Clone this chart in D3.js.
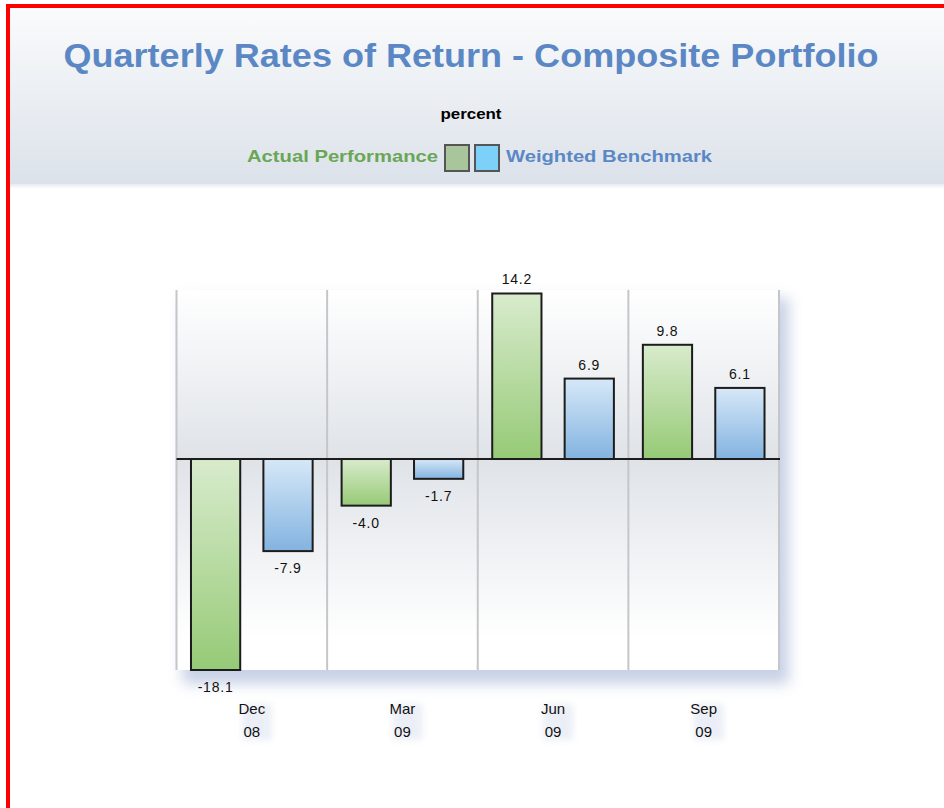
<!DOCTYPE html>
<html>
<head>
<meta charset="utf-8">
<script src="https://cdn.jsdelivr.net/npm/d3@7"></script>
<style>
  html, body { margin: 0; padding: 0; background: #fff; }
  svg { display: block; font-family: "Liberation Sans", Arial, sans-serif; }
</style>
</head>
<body>
<svg id="chart" width="944" height="808"></svg>
<script>
// chart data
var quarters = ["Dec 08", "Mar 09", "Jun 09", "Sep 09"];
var seriesNames = ["Actual Performance", "Weighted Benchmark"];
var actualPerformance = [-18.1, -4.0, 14.2, 9.8];
var weightedBenchmark = [-7.9, -1.7, 6.9, 6.1];
var valueLabels = [["-18.1", "-4.0", "14.2", "9.8"], ["-7.9", "-1.7", "6.9", "6.1"]];

var svg = d3.select("#chart"),
    width = +svg.attr("width"),
    height = +svg.attr("height");

var defs = svg.append("defs");

function vGrad(id, stops) {
    var g = defs.append("linearGradient")
        .attr("id", id)
        .attr("x1", 0).attr("y1", 0).attr("x2", 0).attr("y2", 1);
    stops.forEach(function (s) {
        g.append("stop").attr("offset", s[0]).attr("stop-color", s[1]);
    });
}
vGrad("hdrGrad", [[0, "#fafbfc"], [1, "#dce2ea"]]);
vGrad("hdrShadow", [[0, "#e6eaf0"], [1, "#ffffff"]]);
vGrad("plotTop", [[0, "#ffffff"], [1, "#dfe3e8"]]);
vGrad("plotBottom", [[0, "#dfe3e8"], [0.85, "#ffffff"], [1, "#ffffff"]]);
vGrad("greenGrad", [[0, "#d8ebcd"], [1, "#96ca76"]]);
vGrad("blueGrad", [[0, "#d6e8f8"], [1, "#83b3e0"]]);

var blur = defs.append("filter").attr("id", "blur")
    .attr("x", "-20%").attr("y", "-20%").attr("width", "140%").attr("height", "140%");
blur.append("feGaussianBlur").attr("stdDeviation", 7);
var blurSmall = defs.append("filter").attr("id", "blurSmall")
    .attr("x", "-50%").attr("y", "-50%").attr("width", "200%").attr("height", "200%");
blurSmall.append("feGaussianBlur").attr("stdDeviation", 3);

// header band
svg.append("rect")
    .attr("x", 10).attr("y", 184).attr("width", width).attr("height", 5)
    .attr("fill", "url(#hdrShadow)");
svg.append("rect")
    .attr("x", 10).attr("y", 8).attr("width", width).attr("height", 176)
    .attr("fill", "url(#hdrGrad)");

svg.append("text")
    .attr("x", 471).attr("y", 67)
    .attr("text-anchor", "middle")
    .attr("fill", "#5b88c5")
    .style("font-size", "34px")
    .style("font-weight", "bold")
    .attr("textLength", 815)
    .attr("lengthAdjust", "spacingAndGlyphs")
    .text("Quarterly Rates of Return - Composite Portfolio");

svg.append("text")
    .attr("x", 471).attr("y", 119)
    .attr("text-anchor", "middle")
    .attr("fill", "#000")
    .style("font-size", "14px")
    .style("font-weight", "bold")
    .attr("textLength", 61)
    .attr("lengthAdjust", "spacingAndGlyphs")
    .text("percent");

// legend
var legendColors = ["#6aa655", "#5b88c5"];
var swatchFill = ["#a9c59b", "#7dd0f7"];
svg.append("text")
    .attr("x", 438).attr("y", 162)
    .attr("text-anchor", "end")
    .attr("fill", legendColors[0])
    .style("font-size", "17px")
    .style("font-weight", "bold")
    .attr("textLength", 191)
    .attr("lengthAdjust", "spacingAndGlyphs")
    .text(seriesNames[0]);
svg.append("text")
    .attr("x", 506).attr("y", 162)
    .attr("fill", legendColors[1])
    .style("font-size", "17px")
    .style("font-weight", "bold")
    .attr("textLength", 206)
    .attr("lengthAdjust", "spacingAndGlyphs")
    .text(seriesNames[1]);
svg.append("g").selectAll("rect")
    .data(swatchFill)
    .enter().append("rect")
    .attr("x", function (d, i) { return 445 + i * 30; })
    .attr("y", 145)
    .attr("width", 24).attr("height", 26)
    .attr("fill", function (d) { return d; })
    .attr("stroke", "#555")
    .attr("stroke-width", 2);

// plot
var plotLeft = 176.5, plotRight = 779, plotTop = 290, plotBottom = 670;

var x = d3.scaleBand()
    .domain(quarters)
    .range([plotLeft, plotRight])
    .padding(0);

var x1 = d3.scaleBand()
    .domain([0, 1])
    .range([0, x.bandwidth()])
    .paddingInner(0.32)
    .paddingOuter(0.2);

var y = d3.scaleLinear()
    .domain([-18.1, 14.5])
    .range([plotBottom, plotTop]);

// drop shadow behind plot
svg.append("rect")
    .attr("x", plotLeft + 6).attr("y", plotTop + 8)
    .attr("width", plotRight - plotLeft + 4).attr("height", plotBottom - plotTop + 6)
    .attr("fill", "#c9d1e6")
    .attr("filter", "url(#blur)");

svg.append("rect")
    .attr("x", plotLeft).attr("y", plotTop)
    .attr("width", plotRight - plotLeft).attr("height", y(0) - plotTop)
    .attr("fill", "url(#plotTop)");
svg.append("rect")
    .attr("x", plotLeft).attr("y", y(0))
    .attr("width", plotRight - plotLeft).attr("height", plotBottom - y(0))
    .attr("fill", "url(#plotBottom)");

// vertical grid lines at category boundaries
var gridX = quarters.map(function (q) { return x(q); }).concat([plotRight]);
svg.append("g").selectAll("line")
    .data(gridX)
    .enter().append("line")
    .attr("x1", function (d) { return d; })
    .attr("x2", function (d) { return d; })
    .attr("y1", plotTop).attr("y2", plotBottom)
    .attr("stroke", "#c4c6c9")
    .attr("stroke-width", 2);

// bars
var rows = [];
quarters.forEach(function (q, i) {
    rows.push({ q: q, s: 0, v: actualPerformance[i], label: valueLabels[0][i] });
    rows.push({ q: q, s: 1, v: weightedBenchmark[i], label: valueLabels[1][i] });
});

var bars = svg.append("g").selectAll("rect")
    .data(rows)
    .enter().append("rect")
    .attr("x", function (d) { return x(d.q) + x1(d.s); })
    .attr("y", function (d) { return y(Math.max(0, d.v)); })
    .attr("width", x1.bandwidth())
    .attr("height", function (d) { return Math.abs(y(d.v) - y(0)); })
    .attr("fill", function (d) { return d.s === 0 ? "url(#greenGrad)" : "url(#blueGrad)"; })
    .attr("stroke", "#1c1c1c")
    .attr("stroke-width", 2);

// zero line
svg.append("line")
    .attr("x1", plotLeft).attr("x2", plotRight + 1)
    .attr("y1", y(0)).attr("y2", y(0))
    .attr("stroke", "#1c1c1c")
    .attr("stroke-width", 2);

// value labels
svg.append("g").selectAll("text")
    .data(rows)
    .enter().append("text")
    .attr("x", function (d) { return x(d.q) + x1(d.s) + x1.bandwidth() / 2; })
    .attr("y", function (d) { return d.v >= 0 ? y(d.v) - 9 : y(d.v) + 22; })
    .attr("text-anchor", "middle")
    .attr("fill", "#111")
    .style("font-size", "14px")
    .style("letter-spacing", "0.8px")
    .text(function (d) { return d.label; });

// category labels (two lines) with soft glow
var cats = svg.append("g").selectAll("g")
    .data(quarters)
    .enter().append("g")
    .attr("transform", function (d) { return "translate(" + (x(d) + x.bandwidth() / 2) + ",0)"; });

cats.append("rect")
    .attr("x", -10).attr("y", 704)
    .attr("width", 30).attr("height", 36)
    .attr("fill", "#dfe4f1")
    .attr("opacity", 0.6)
    .attr("filter", "url(#blurSmall)");

cats.each(function (d) {
    var parts = d.split(" ");
    var t = d3.select(this).append("text")
        .attr("text-anchor", "middle")
        .attr("fill", "#111")
        .style("font-size", "15px");
    t.append("tspan").attr("x", 0).attr("y", 714).text(parts[0]);
    t.append("tspan").attr("x", 0).attr("y", 737).text(parts[1]);
});

// red frame
svg.append("rect")
    .attr("x", 8).attr("y", 6)
    .attr("width", width + 20).attr("height", height + 20)
    .attr("fill", "none")
    .attr("stroke", "#ff0000")
    .attr("stroke-width", 4);
</script>
</body>
</html>
